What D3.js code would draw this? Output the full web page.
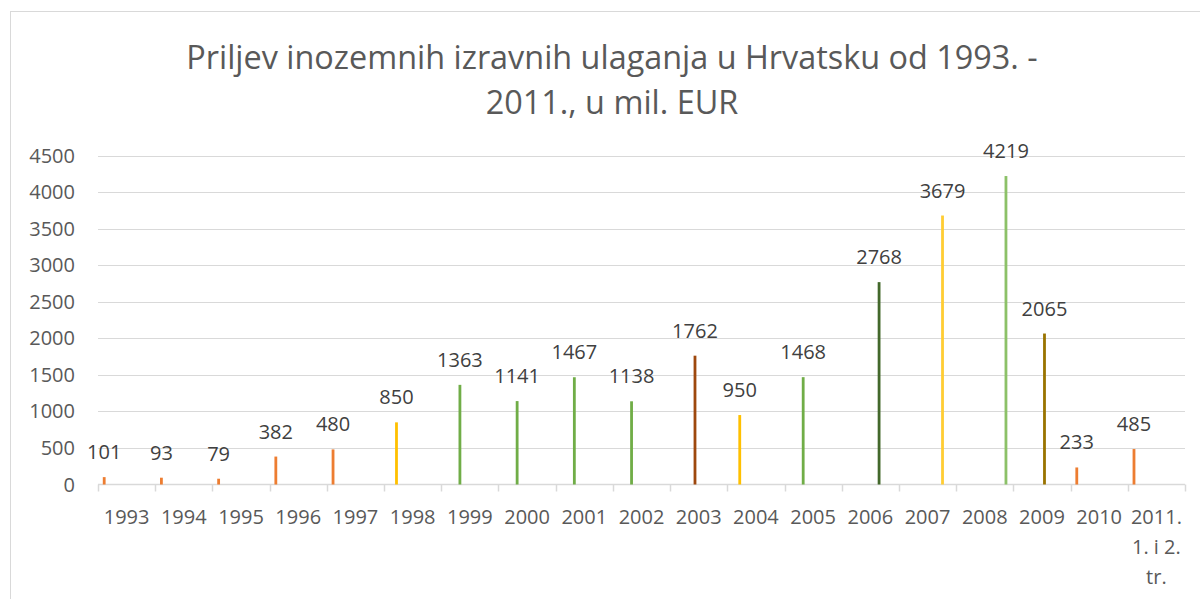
<!DOCTYPE html>
<html><head><meta charset="utf-8">
<script src="https://cdn.jsdelivr.net/npm/d3@7"></script>
<style>html,body{margin:0;padding:0;background:#fff;}svg{display:block;}</style>
</head><body>
<svg id="chart" width="1200" height="599"></svg>
<script>
const categories = ["1993","1994","1995","1996","1997","1998","1999","2000","2001","2002","2003","2004","2005","2006","2007","2008","2009","2010","2011.\n1. i 2.\ntr."];
const values = [101,93,79,382,480,850,1363,1141,1467,1138,1762,950,1468,2768,3679,4219,2065,233,485];
const seriesOfCategory = [0,0,0,0,0,1,2,2,2,2,3,1,2,5,6,7,4,0,0];
const seriesColors = ["#ED7D31","#FFC000","#70AD47","#9E480E","#997300","#43682B","#FFCD33","#8CC168"];
const yTicks = [0,500,1000,1500,2000,2500,3000,3500,4000,4500];
const titleLines = ["Priljev inozemnih izravnih ulaganja u Hrvatsku od 1993. -","2011., u mil. EUR"];

(function(){
const svg = d3.select("#chart");
const font = "'Open Sans', sans-serif";
const pLeft = 98, pRight = 1185, pTop = 155.5, pBottom = 484.5;

svg.append("rect").attr("x",10.5).attr("y",11.5).attr("width",1200).attr("height",600)
  .attr("fill","#fff").attr("stroke","#d9d9d9").attr("stroke-width",1);

const x = d3.scaleBand().domain(categories).range([pLeft,pRight]).paddingInner(0).paddingOuter(0);
const inner = d3.scalePoint().domain(d3.range(seriesColors.length)).range([6.2,49.8]);
const y = d3.scaleLinear().domain([0,4500]).range([pBottom,pTop]);

svg.append("g").selectAll("line").data(yTicks.filter(d=>d>0)).join("line")
  .attr("x1",pLeft).attr("x2",pRight)
  .attr("y1",d=>Math.round(y(d))+0.5).attr("y2",d=>Math.round(y(d))+0.5)
  .attr("stroke","#d9d9d9").attr("stroke-width",1);

svg.append("g").selectAll("text").data(yTicks).join("text")
  .attr("x",75).attr("y",d=>y(d)).attr("dy","0.35em").attr("text-anchor","end")
  .attr("font-family",font).attr("font-size",20).attr("fill","#595959").text(d=>d);

const xa = svg.append("g");
xa.append("line").attr("x1",pLeft).attr("x2",pRight).attr("y1",pBottom).attr("y2",pBottom)
  .attr("stroke","#d9d9d9").attr("stroke-width",1.5);
const bounds = categories.map(c=>x(c)).concat([pRight]);
xa.selectAll("line.t").data(bounds).join("line").attr("class","t")
  .attr("x1",d=>Math.round(d)+0.5).attr("x2",d=>Math.round(d)+0.5)
  .attr("y1",pBottom).attr("y2",pBottom+7).attr("stroke","#d9d9d9").attr("stroke-width",1.5);

const xl = svg.append("g").selectAll("text").data(categories).join("text")
  .attr("x",d=>x(d)+x.bandwidth()/2).attr("y",517).attr("text-anchor","middle")
  .attr("font-family",font).attr("font-size",20).attr("fill","#595959");
xl.each(function(d){
  const t = d3.select(this);
  d.split("\n").forEach((line,i)=>{
    t.append("tspan").attr("x",x(d)+x.bandwidth()/2).attr("dy",i===0?"0.35em":"30px").text(line);
  });
});

const data = categories.map((c,i)=>({c, v:values[i], s:seriesOfCategory[i]}));
svg.append("g").selectAll("rect").data(data).join("rect")
  .attr("x",d=>x(d.c)+inner(d.s)-1.4).attr("width",2.8)
  .attr("y",d=>y(d.v)).attr("height",d=>pBottom-y(d.v))
  .attr("fill",d=>seriesColors[d.s]);

svg.append("g").selectAll("text").data(data).join("text")
  .attr("x",d=>x(d.c)+inner(d.s)).attr("y",d=>y(d.v)-25).attr("dy","0.35em")
  .attr("text-anchor","middle").attr("font-family",font).attr("font-size",20).attr("fill","#404040")
  .text(d=>d.v);

svg.append("g").selectAll("text").data(titleLines).join("text")
  .attr("x",612).attr("y",(d,i)=>58+i*45).attr("dy","0.35em").attr("text-anchor","middle")
  .attr("font-family",font).attr("font-size",32.4).attr("fill","#595959").text(d=>d);
})();
</script>
</body></html>
